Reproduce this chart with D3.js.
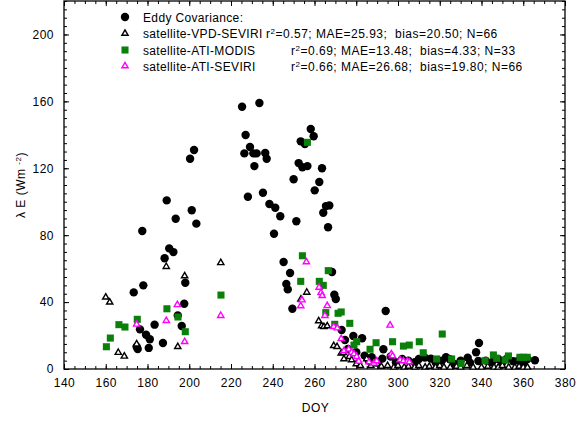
<!DOCTYPE html>
<html>
<head>
<meta charset="utf-8">
<script src="https://cdn.jsdelivr.net/npm/d3@7"></script>
<style>
  body { margin: 0; background: #fff; }
  svg { font-family: "Liberation Sans", Arial, sans-serif; }
  text { white-space: pre; }
</style>
</head>
<body>
<svg id="chart" width="584" height="421"></svg>
<script>
// ---- data: [DOY, latent heat flux (W m-2)] ----
var eddyCovariance = [
  [173.4,45.8],[174.8,13.3],[175.3,12],[176.4,23.7],[177.5,82.5],[178,50],[179.3,20.5],[180.6,12.6],
  [181.1,17.8],[183.4,26.5],[187.4,15.5],[188.2,66.2],[189.2,100.8],[190.4,72.1],[192.4,69.9],
  [193.5,89.8],[194.5,32],[196.4,25.7],[197.6,39],[198.1,51.6],[200.4,125.7],[201.2,94.9],
  [202.3,130.9],[203.4,86.9],
  [225.3,156.8],[226.4,128.9],[227,139.9],[228.1,103],[229.1,132.7],[230.7,128.9],[232.3,128.9],
  [231.2,121.3],[233.6,159],[235.3,105.4],[236.4,129.1],[237.1,125.7],[238.4,98.6],[240.6,80.9],
  [241.2,96.4],[243.6,91.3],[245.2,64],[246.5,50.8],[247.2,47.6],[248.3,57.4],[249.4,36],[250,113.4],
  [251.3,88.3],[252.4,123.1],[253.4,136.1],[254.2,120.6],[255.4,134.5],[256.6,121.3],[258.2,143.5],
  [259.6,139.1],[260.1,106.8],[262.3,111.8],[263.6,120],[264.2,93.4],[265.5,97.4],[266.5,84.7],
  [267.1,97.8],[268.4,58],[269.5,44.4],[270.2,41.8],
  [273,23.3],[274.6,17.3],[276,12],[278.6,19.7],[280,10],[282.8,18.4],[284,8],[286,5],[287.4,7],
  [290,4],[292.5,6.2],[293,11.8],[294.1,34.7],[296.5,7.5],[299,4],[302,6],[305,5],[308,4],[310,6],
  [312.9,6.8],[315.7,6.2],[318,4],[321,5],[323,7],[324.9,5.8],[327,3],[330,5],[333.4,6.8],[334.5,3.8],
  [337.4,10],[338.5,4.8],[338.8,15.5],[342,5],[345,4],[348,6],[350,4],[352,6],[355.2,4.6],[357.6,5],
  [360,4],[362,6],[365.6,5.2]
];
var vpdSeviri = [
  [160,42.9],[161.9,39.9],[166,9.8],[168.9,7.6],[174.8,14.9],[189,61.2],[194.5,13.3],[197.8,55.6],
  [215.1,63.5],[253.5,41.7],[256.3,45.8],[262,28.7],[263.4,25.7],[264.5,25.3],[266.1,25.7],
  [269.2,13.9],[270.8,13.3],[272.8,9.4],[273.8,9.7],[274.1,6],[276.7,7.4],[277.8,5.4],[280,3],
  [282,2],[285,6],[287,2],[290,3],[292,1.5],[295,2],[298,1],[300,2],[303,1],[305,1.5],[308,1],
  [310,2],[313,1],[315,1.5],[318,1],[320,2],[322,1],[325,1],[328,1.5],[330,1],[333,2],[336,1],
  [340,1],[343,1.5],[346,1],[348,1],[350,2],[353,1],[356,1],[358,1.5],[360,1],[362,1]
];
var atiModis = [
  [160.3,13.3],[162.2,18.5],[166.3,26.5],[169.2,25.1],[175.1,29.7],[189.3,36],[194.6,31.1],
  [198.1,22.3],[215.2,44.2],[253.4,52.4],[254.2,67.7],[256.6,135.5],[262.3,52.4],[264.2,50],
  [265.4,33.7],[266.6,58.8],[269.7,26.7],[271.3,33.3],[272.8,34.1],[276.9,27.3],[278.9,14.3],
  [280.2,16.3],[286.6,11.8],[289.5,15.7],[297.4,16.3],[302.6,13.7],[305.4,14.3],[310.2,16.3],
  [312.1,9.7],[318.5,6],[321.2,20.9],[325.7,6],[330.2,3.4],[341.7,5],[345.7,8.4],[347.3,6.4],
  [351.3,5.4],[352.9,7.8],[358.4,7],[360,7],[361.9,7]
];
var atiSeviri = [
  [174.8,26.7],[189,28.9],[194.3,38.4],[197.8,16.3],[215.1,31.9],[253.4,37.7],[254,41.2],[256.1,64],
  [262.2,48.8],[263.1,45.6],[263.7,43.8],[265,31.9],[266.1,37.8],[269.2,25.3],[270.9,24.5],
  [272.8,18.1],[274.1,10.8],[276.4,11.8],[277.8,10],[278.9,9],[280.2,7.4],[281.2,4.6],[286.1,4.2],
  [288.5,3.4],[289.8,4.8],[296.2,26.1],[296.8,9],[297.4,7.8],[301,5.4],[302.6,4.8],[304.5,4.6],
  [305.4,4.2]
];

var xTicks = [140,160,180,200,220,240,260,280,300,320,340,360,380];
var yTicks = [0,40,80,120,160,200];

var legendLabels = ["Eddy Covariance:", "satellite-VPD-SEVIRI", "satellite-ATI-MODIS", "satellite-ATI-SEVIRI"];
var legendStats = [
  null,
  ["0.57", "25.93", "20.50", "66"],
  ["0.69", "13.48", "4.33", "33"],
  ["0.66", "26.68", "19.80", "66"]
];

// ---- layout ----
var plotLeft = 64, plotRight = 565, plotTop = 1, plotBottom = 369;
var green = "#0a800a", magenta = "#ff00ff";

var svg = d3.select("#chart");
var x = d3.scaleLinear().domain([140, 380]).range([plotLeft, plotRight]);
var y = d3.scaleLinear().domain([0, 220]).range([plotBottom, plotTop]);

var fontSize = "12px", spacing = "0.5px";

function styleAxis(g) {
  g.select(".domain").remove();
  g.selectAll("line").attr("stroke", "#000");
  g.selectAll("text").attr("fill", "#000").style("font-size", fontSize).style("letter-spacing", spacing);
}

// minor ticks on all four sides
var minorX = d3.range(140, 381, 5), minorY = d3.range(0, 221, 5);
svg.append("g").attr("transform", "translate(0," + plotBottom + ")")
  .call(d3.axisBottom(x).tickValues(minorX).tickSize(-3).tickFormat("")).call(styleAxis);
svg.append("g").attr("transform", "translate(0," + plotTop + ")")
  .call(d3.axisTop(x).tickValues(minorX).tickSize(-3).tickFormat("")).call(styleAxis);
svg.append("g").attr("transform", "translate(" + plotLeft + ",0)")
  .call(d3.axisLeft(y).tickValues(minorY).tickSize(-3).tickFormat("")).call(styleAxis);
svg.append("g").attr("transform", "translate(" + plotRight + ",0)")
  .call(d3.axisRight(y).tickValues(minorY).tickSize(-3).tickFormat("")).call(styleAxis);

// major ticks + labels
svg.append("g").attr("transform", "translate(0," + plotBottom + ")")
  .call(d3.axisBottom(x).tickValues(xTicks).tickSize(-5).tickPadding(9).tickFormat(d3.format("d"))).call(styleAxis);
svg.append("g").attr("transform", "translate(0," + plotTop + ")")
  .call(d3.axisTop(x).tickValues(xTicks).tickSize(-5).tickFormat("")).call(styleAxis);
svg.append("g").attr("transform", "translate(" + plotLeft + ",0)")
  .call(d3.axisLeft(y).tickValues(yTicks).tickSize(-5).tickPadding(10).tickFormat(d3.format("d"))).call(styleAxis);
svg.append("g").attr("transform", "translate(" + plotRight + ",0)")
  .call(d3.axisRight(y).tickValues(yTicks).tickSize(-5).tickFormat("")).call(styleAxis);

// frame
svg.append("rect")
  .attr("x", plotLeft).attr("y", plotTop).attr("width", plotRight - plotLeft).attr("height", plotBottom - plotTop)
  .attr("fill", "none").attr("stroke", "#000").attr("stroke-width", 1.3);

// axis titles
svg.append("text")
  .attr("x", (plotLeft + plotRight) / 2 + 1).attr("y", 412)
  .attr("text-anchor", "middle").style("font-size", fontSize).style("letter-spacing", spacing)
  .text("DOY");

var yTitle = svg.append("text")
  .attr("transform", "translate(25,185) rotate(-90)")
  .attr("text-anchor", "middle").style("font-size", fontSize).style("letter-spacing", spacing);
yTitle.append("tspan").text("λ E (Wm ");
yTitle.append("tspan").attr("dy", -4).style("font-size", "8px").text("-2");
yTitle.append("tspan").attr("dy", 4).text(")");

// ---- marks ----
var tri = d3.symbol().type(d3.symbolTriangle).size(17);
var sq = d3.symbol().type(d3.symbolSquare).size(50);

function drawCircles(g, data) {
  g.selectAll("circle").data(data).join("circle")
    .attr("cx", function (d) { return x(d[0]); })
    .attr("cy", function (d) { return y(d[1]); })
    .attr("r", 4.2).attr("fill", "#000");
}
function drawTriangles(g, data, color) {
  g.selectAll("path").data(data).join("path")
    .attr("d", tri)
    .attr("transform", function (d) { return "translate(" + x(d[0]) + "," + y(d[1]) + ")"; })
    .attr("fill", "#fff").attr("stroke", color).attr("stroke-width", 1.4);
}
function drawSquares(g, data, color) {
  g.selectAll("path").data(data).join("path")
    .attr("d", sq)
    .attr("transform", function (d) { return "translate(" + x(d[0]) + "," + y(d[1]) + ")"; })
    .attr("fill", color);
}

drawCircles(svg.append("g"), eddyCovariance);
drawTriangles(svg.append("g"), vpdSeviri, "#000");
drawSquares(svg.append("g"), atiModis, green);
drawTriangles(svg.append("g"), atiSeviri, magenta);

// ---- legend ----
var legendX = 125, legendRows = [17, 33.5, 50, 66], statsX = [null, 266, 291, 291];
var lg = svg.append("g");
lg.append("circle").attr("cx", legendX).attr("cy", legendRows[0]).attr("r", 4.2).attr("fill", "#000");
lg.append("path").attr("d", tri).attr("transform", "translate(" + legendX + "," + legendRows[1] + ")")
  .attr("fill", "#fff").attr("stroke", "#000").attr("stroke-width", 1.4);
lg.append("path").attr("d", sq).attr("transform", "translate(" + legendX + "," + legendRows[2] + ")")
  .attr("fill", green);
lg.append("path").attr("d", tri).attr("transform", "translate(" + legendX + "," + legendRows[3] + ")")
  .attr("fill", "#fff").attr("stroke", magenta).attr("stroke-width", 1.4);

legendLabels.forEach(function (label, i) {
  lg.append("text").attr("x", 143).attr("y", legendRows[i] + 4.5)
    .style("font-size", fontSize).style("letter-spacing", "0.35px").text(label);
  var s = legendStats[i];
  if (!s) return;
  var t = lg.append("text").attr("x", statsX[i]).attr("y", legendRows[i] + 4.5)
    .style("font-size", fontSize).style("letter-spacing", "0.5px");
  t.append("tspan").text("r");
  t.append("tspan").attr("dy", -4).style("font-size", "8px").text("2");
  t.append("tspan").attr("dy", 4).text("=" + s[0] + "; MAE=" + s[1] + ";  bias=" + s[2] + "; N=" + s[3]);
});
</script>
</body>
</html>
